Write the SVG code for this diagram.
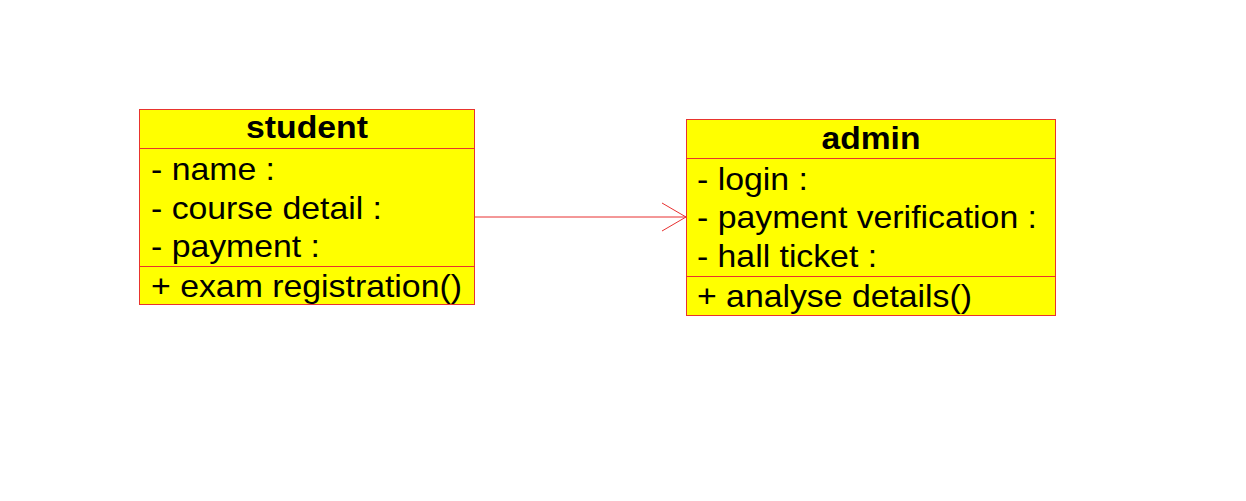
<svg xmlns="http://www.w3.org/2000/svg" width="1246" height="501" viewBox="0 0 1246 501">
<style>
.box{fill:#ffff00;stroke:#e8342e;stroke-width:1}
.div{stroke:#e8342e;stroke-width:1}
.t{font-family:"Liberation Sans",Arial,sans-serif;font-size:32px;fill:#000}
.h{font-weight:bold;text-anchor:middle;font-size:31px}
.conn{stroke:#e83030;stroke-width:1;fill:none}
</style>
<rect width="1246" height="501" fill="#ffffff"/>
<g id="connectors">
<line class="conn" x1="475" y1="217" x2="686" y2="217"/>
<polyline class="conn" points="662,203 686,217 662,231"/>
</g>
<g id="student">
<rect class="box" x="139.5" y="109.5" width="335" height="195"/>
<line class="div" x1="139.5" y1="148.5" x2="474.5" y2="148.5"/>
<line class="div" x1="139.5" y1="266.5" x2="474.5" y2="266.5"/>
<text class="t h" x="307" y="138" textLength="122" lengthAdjust="spacingAndGlyphs">student</text>
<text class="t" x="151" y="180" textLength="124" lengthAdjust="spacingAndGlyphs">- name :</text>
<text class="t" x="151" y="219" textLength="231" lengthAdjust="spacingAndGlyphs">- course detail :</text>
<text class="t" x="151" y="257" textLength="169" lengthAdjust="spacingAndGlyphs">- payment :</text>
<text class="t" x="151" y="297" textLength="311" lengthAdjust="spacingAndGlyphs">+ exam registration()</text>
</g>
<g id="admin">
<rect class="box" x="686.5" y="119.5" width="369" height="196"/>
<line class="div" x1="686.5" y1="158.5" x2="1055.5" y2="158.5"/>
<line class="div" x1="686.5" y1="276.5" x2="1055.5" y2="276.5"/>
<text class="t h" x="871" y="149" textLength="99" lengthAdjust="spacingAndGlyphs">admin</text>
<text class="t" x="697" y="190" textLength="111" lengthAdjust="spacingAndGlyphs">- login :</text>
<text class="t" x="697" y="228" textLength="340" lengthAdjust="spacingAndGlyphs">- payment verification :</text>
<text class="t" x="697" y="267" textLength="180" lengthAdjust="spacingAndGlyphs">- hall ticket :</text>
<text class="t" x="697" y="307" textLength="275" lengthAdjust="spacingAndGlyphs">+ analyse details()</text>
</g>
</svg>
